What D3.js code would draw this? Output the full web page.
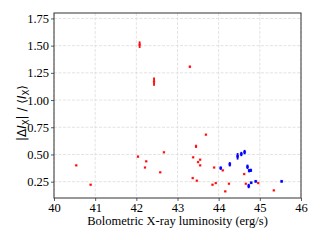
<!DOCTYPE html>
<html>
<head>
<meta charset="utf-8">
<script src="https://cdn.jsdelivr.net/npm/d3@7"></script>
<style>
  body { margin: 0; background: #fff; }
  svg { display: block; }
</style>
</head>
<body>
<div id="chart"></div>
<script>
// red sample
var redX   = [40.54, 40.89, 42.04, 42.08, 42.21, 42.24, 42.43, 42.58, 42.67, 43.30, 43.37, 43.38, 43.45, 43.47,
              43.50, 43.55, 43.55, 43.69, 43.85, 43.89, 43.93, 44.10, 44.16, 44.25, 44.62, 44.66, 44.96, 45.34];
var redY   = [0.40, 0.222, 0.48, 1.509, 0.38, 0.437, 1.169, 0.336, 0.52, 1.306, 0.283, 0.474, 0.575, 0.259,
              0.43, 0.452, 0.40, 0.682, 0.222, 0.38, 0.237, 0.354, 0.161, 0.231, 0.32, 0.231, 0.237, 0.17];
var redErr = [0.005, 0.005, 0.008, 0.03, 0.005, 0.005, 0.038, 0.005, 0.005, 0.01, 0.005, 0.005, 0.015, 0.005,
              0.005, 0.005, 0.005, 0.005, 0.005, 0.005, 0.005, 0.005, 0.005, 0.005, 0.005, 0.005, 0.005, 0.005];

// blue sample
var blueX   = [44.05, 44.27, 44.46, 44.55, 44.63, 44.70, 44.74, 44.78, 44.73, 44.79, 44.90, 45.53];
var blueY   = [0.375, 0.41, 0.483, 0.504, 0.522, 0.387, 0.351, 0.354, 0.21, 0.24, 0.253, 0.253];
var blueErr = [0.015, 0.02, 0.03, 0.02, 0.02, 0.02, 0.015, 0.015, 0.02, 0.01, 0.01, 0.01];

var xTicks = [40, 41, 42, 43, 44, 45, 46];
var yTicks = [0.25, 0.50, 0.75, 1.00, 1.25, 1.50, 1.75];

var W = 320, H = 240;
var pLeft = 54, pRight = 301, pTop = 13, pBottom = 198;

var svg = d3.select("#chart").append("svg")
    .attr("width", W)
    .attr("height", H);

var x = d3.scaleLinear().domain([40, 46]).range([pLeft, pRight]);
var y = d3.scaleLinear().domain([0.1, 1.8]).range([pBottom, pTop]);

// grid
svg.append("g").selectAll("line")
    .data(xTicks)
    .enter().append("line")
    .attr("x1", d => x(d)).attr("x2", d => x(d))
    .attr("y1", pTop).attr("y2", pBottom)
    .attr("stroke", "#dcdcdc").attr("stroke-width", 0.8)
    .attr("stroke-dasharray", "3,1.5");
svg.append("g").selectAll("line")
    .data(yTicks)
    .enter().append("line")
    .attr("x1", pLeft).attr("x2", pRight)
    .attr("y1", d => y(d)).attr("y2", d => y(d))
    .attr("stroke", "#dcdcdc").attr("stroke-width", 0.8)
    .attr("stroke-dasharray", "3,1.5");

// axes
var xAxis = d3.axisBottom(x).tickValues(xTicks).tickSize(3).tickPadding(2).tickFormat(d3.format("d"));
var yAxis = d3.axisLeft(y).tickValues(yTicks).tickSize(3).tickPadding(2).tickFormat(d3.format(".2f"));

var gx = svg.append("g").attr("transform", "translate(0," + pBottom + ")").call(xAxis);
var gy = svg.append("g").attr("transform", "translate(" + pLeft + ",0)").call(yAxis);
[gx, gy].forEach(g => {
    g.select(".domain").remove();
    g.selectAll("line").attr("stroke", "#333").attr("stroke-width", 0.8);
    g.selectAll("text")
        .attr("fill", "#000")
        .style("font-family", "'Liberation Serif', 'DejaVu Serif', serif")
        .style("font-size", "12.5px");
});

// frame
svg.append("rect")
    .attr("x", pLeft).attr("y", pTop)
    .attr("width", pRight - pLeft).attr("height", pBottom - pTop)
    .attr("fill", "none").attr("stroke", "#333").attr("stroke-width", 1);

function drawSeries(xs, ys, es, color, halo, size) {
    var pts = xs.map((d, i) => ({ x: d, y: ys[i], e: es[i] }));
    var g = svg.append("g");
    g.selectAll("line")
        .data(pts)
        .enter().append("line")
        .attr("x1", d => x(d.x)).attr("x2", d => x(d.x))
        .attr("y1", d => y(d.y - d.e)).attr("y2", d => y(d.y + d.e))
        .attr("stroke", color).attr("stroke-width", 1.8);
    g.selectAll("rect")
        .data(pts)
        .enter().append("rect")
        .attr("x", d => x(d.x) - size / 2).attr("y", d => y(d.y) - size / 2)
        .attr("width", size).attr("height", size)
        .attr("fill", color)
        .attr("stroke", halo).attr("stroke-width", 0.8);
}

drawSeries(redX, redY, redErr, "#ff0000", "rgba(255,90,90,0.35)", 2);
drawSeries(blueX, blueY, blueErr, "#0000ff", "rgba(0,0,255,0.3)", 2.2);

// labels
svg.append("text")
    .attr("x", (pLeft + pRight) / 2).attr("y", 225)
    .attr("text-anchor", "middle")
    .style("font-family", "'Liberation Serif', 'DejaVu Serif', serif")
    .style("font-size", "12.5px")
    .text("Bolometric X-ray luminosity (erg/s)");

var yl = svg.append("text")
    .attr("transform", "translate(26,113) rotate(-90)")
    .attr("text-anchor", "middle")
    .style("font-family", "'DejaVu Sans', sans-serif")
    .style("font-size", "12px");
yl.append("tspan").text("|Δ");
yl.append("tspan").style("font-style", "italic").text("I");
yl.append("tspan").attr("dy", 2.5).style("font-size", "8.5px").text("X");
yl.append("tspan").attr("dy", -2.5).text("| / ⟨");
yl.append("tspan").style("font-style", "italic").text("I");
yl.append("tspan").attr("dy", 2.5).style("font-size", "8.5px").text("X");
yl.append("tspan").attr("dy", -2.5).text("⟩");
</script>
</body>
</html>
